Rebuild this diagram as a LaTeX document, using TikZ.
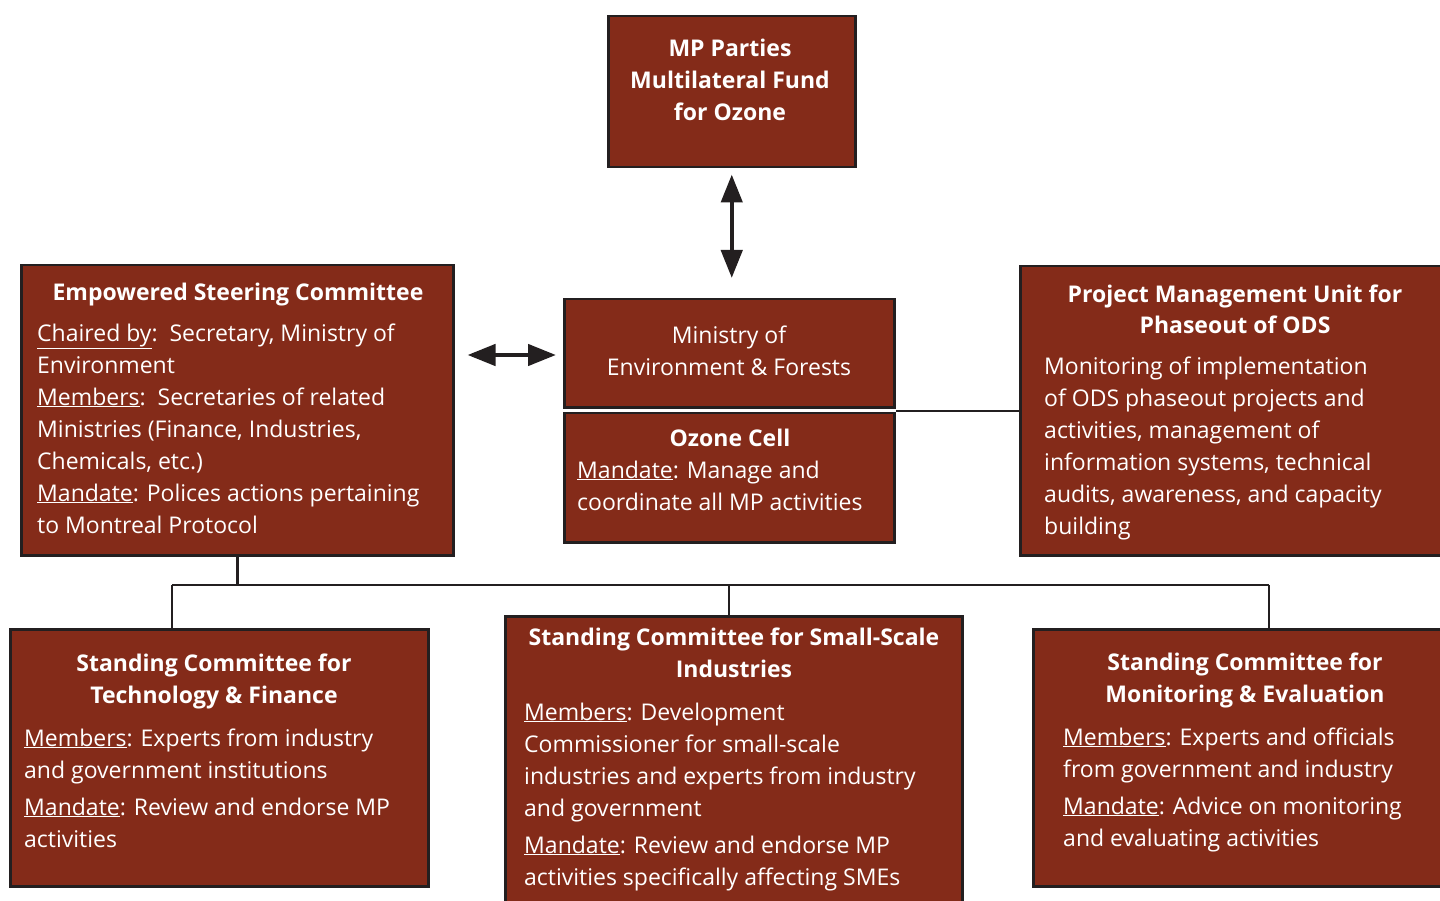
\documentclass[tikz,border=0pt]{standalone}
\usepackage{fontspec}
\setmainfont{Open Sans}
\usetikzlibrary{arrows.meta}
\definecolor{brique}{HTML}{842B19}
\definecolor{encre}{HTML}{231F20}

\begin{document}
\begin{tikzpicture}[x = 1pt, y = -1pt,
    boite/.style = {draw = encre, line width = 2.5pt, fill = brique,
        rectangle, anchor = north west, inner sep = 0pt},
    titre/.style = {text = white, font = \bfseries\fontsize{23}{32}\selectfont,
        align = center, anchor = base, inner sep = 0pt},
    corps/.style = {text = white, font = \fontsize{23}{32}\selectfont,
        align = left, anchor = base west, inner sep = 0pt},
    lien/.style = {draw = encre, line width = 2.5pt},
    fleche/.style = {draw = encre, line width = 4.5pt,
        {Triangle[length = 28pt, width = 21pt]}-{Triangle[length = 28pt, width = 21pt]}}]
\useasboundingbox (0, 0) rectangle (1440, 901);

% Les boîtes
\node[boite, minimum width = 330pt, minimum height = 108pt] (moef) at (563, 298) {};
\node[boite, minimum width = 247pt, minimum height = 151pt] (mp) at (607, 15) {};
\node[boite, minimum width = 330pt, minimum height = 129.5pt] (ozone) at (563, 411.5) {};
\node[boite, minimum width = 432pt, minimum height = 290pt] (esc) at (20, 264) {};
\node[boite, minimum width = 430pt, minimum height = 289pt] (pmu) at (1019, 265) {};
\node[boite, minimum width = 418pt, minimum height = 257pt] (sctf) at (9, 628) {};
\node[boite, minimum width = 457pt, minimum height = 295pt] (scssi) at (504, 615) {};
\node[boite, minimum width = 415pt, minimum height = 257pt] (scme) at (1032, 628) {};

% Les textes (ancrés sur la dernière ligne)
\node[titre] (mp-t) at (730, 121) {MP Parties\\Multilateral Fund\\for Ozone};
\node[corps, align = center, anchor = base]
    (moef-t) at (729, 375) {Ministry of\\Environment \& Forests};
\node[titre] (ozone-t) at (730, 446) {Ozone Cell};
\node[corps] (ozone-c) at (577, 510)
    {\underline{Mandate}: Manage and\\coordinate all MP activities};
\node[titre] (esc-t) at (238, 301) {Empowered Steering Committee};
\node[corps] (esc-c) at (37, 533)
    {\underline{Chaired by}:\ \ Secretary, Ministry of\\Environment\\
     \underline{Members}:\ \ Secretaries of related\\Ministries (Finance, Industries,\\
     Chemicals, etc.)\\\underline{Mandate}: Polices actions pertaining\\to Montreal Protocol};
\node[titre] (pmu-t) at (1235, 334) {Project Management Unit for\\Phaseout of ODS};
\node[corps] (pmu-c) at (1044, 534)
    {Monitoring of implementation\\of ODS phaseout projects and\\activities, management of\\
     information systems, technical\\audits, awareness, and capacity\\building};
\node[titre] (sctf-t) at (214, 703) {Standing Committee for\\Technology \& Finance};
\node[corps] (sctf-c) at (24, 847)
    {\underline{Members}: Experts from industry\\and government institutions\\[5pt]
     \underline{Mandate}: Review and endorse MP\\activities};
\node[titre] (scssi-t) at (734, 677) {Standing Committee for Small-Scale\\Industries};
\node[corps] (scssi-c) at (524, 885)
    {\underline{Members}: Development\\Commissioner for small-scale\\
     industries and experts from industry\\and government\\[5pt]
     \underline{Mandate}: Review and endorse MP\\activities specifically affecting SMEs};
\node[titre] (scme-t) at (1245, 702) {Standing Committee for\\Monitoring \& Evaluation};
\node[corps] (scme-c) at (1063, 846)
    {\underline{Members}: Experts and officials\\from government and industry\\[5pt]
     \underline{Mandate}: Advice on monitoring\\and evaluating activities};

% Les flèches
\draw[fleche, shorten <= 6pt, shorten >= 20pt] (mp.south) to (mp.south |- moef.north);
\draw[fleche, shorten <= 13pt, shorten >= 7pt] (esc.east |- 0,355) to (moef.west |- 0,355);

% Les liens
\draw[lien] (pmu.west) -- (pmu.west -| moef.east);
\coordinate (bus-g) at (172, 585);
\coordinate (bus-d) at (1269, 585);
\draw[lien] (esc.south) -- (esc.south |- bus-g);
\draw[lien] (bus-g) -- (bus-d);
\foreach \depart/\dest in {bus-g/sctf, bus-d/scme}{
    \draw[lien] (\depart) -- (\depart |- \dest.north);
}
\draw[lien] (729, 585) -- (729, 615);
\end{tikzpicture}
\end{document}
